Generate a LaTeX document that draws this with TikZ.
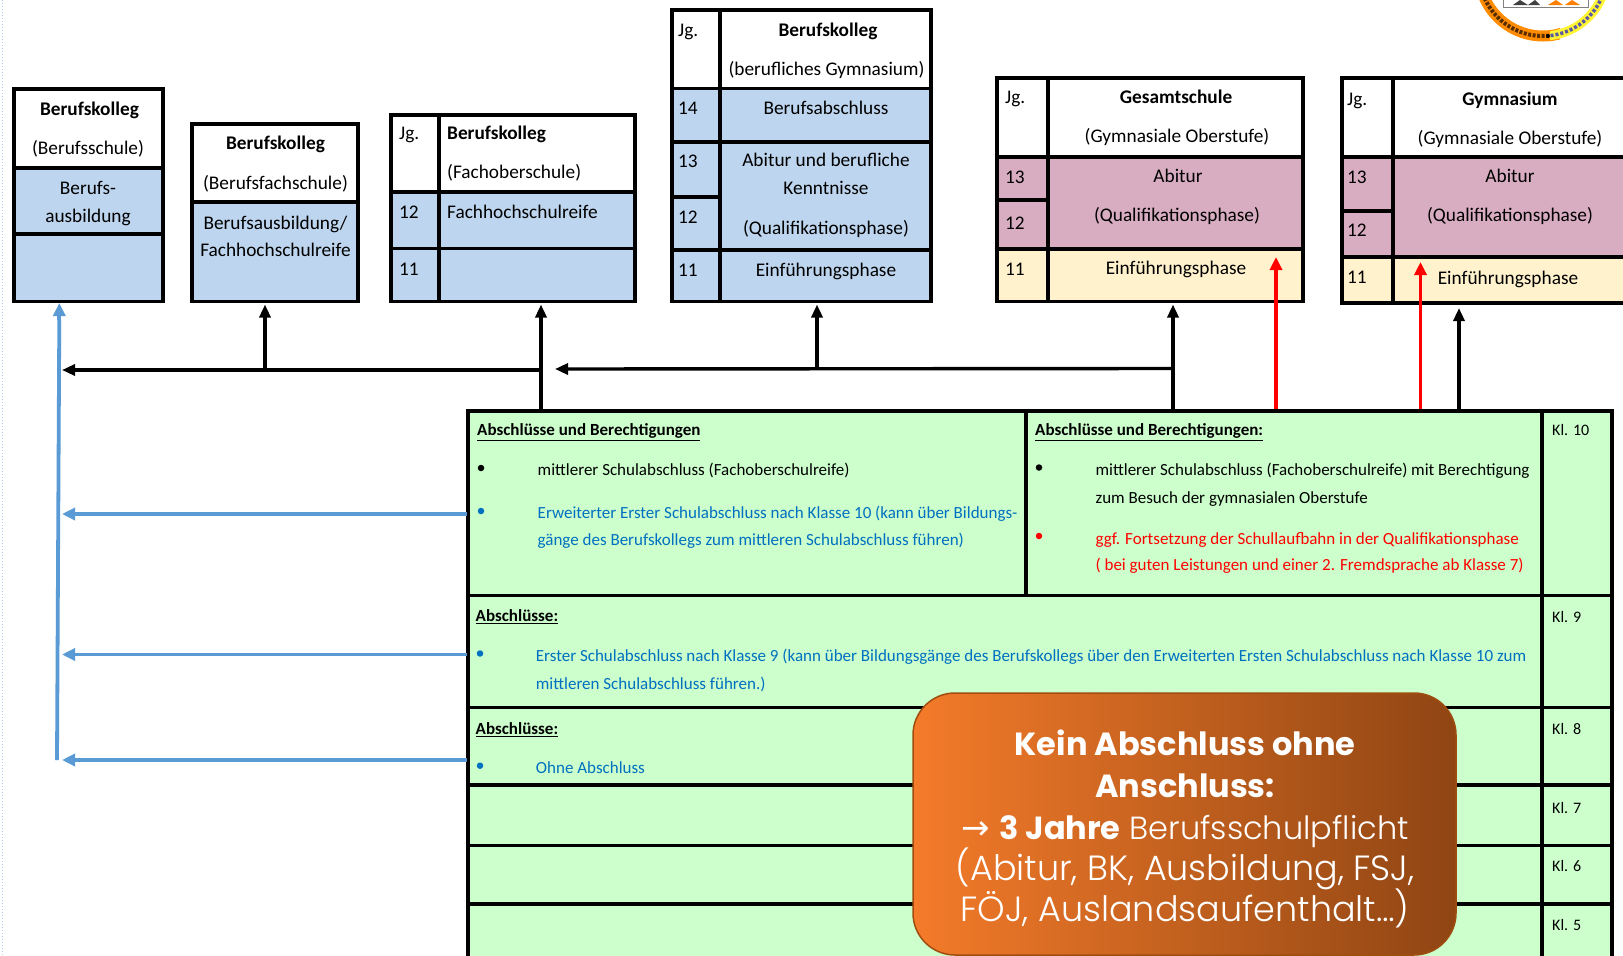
\documentclass[tikz,border=0pt]{standalone}
\usepackage{fontspec}
\setmainfont{Carlito}
\newfontfamily\calloutfont{Poppins}[UprightFont=* Light,BoldFont=* Bold]
\newfontfamily\arrowfont{DejaVu Sans}
\usetikzlibrary{arrows.meta,shapes.misc}
\definecolor{cblue}{HTML}{BDD5EE}
\definecolor{cpink}{HTML}{D9ADC1}
\definecolor{ccream}{HTML}{FFF2CC}
\definecolor{cgreen}{HTML}{CCFFCC}
\definecolor{tblue}{HTML}{0070C0}
\definecolor{ablue}{HTML}{5B9BD5}
\definecolor{corange}{HTML}{F47B2A}
\definecolor{cbrown}{HTML}{8F4513}
\tikzset{
  cellbox/.style={draw=black,line width=3.2pt,inner sep=0,outer sep=0,anchor=north west},
  lbl/.style={inner sep=0,yshift=-2pt,font=\fontsize{19.3}{21}\selectfont,text height=14pt,text depth=4.5pt},
  lblw/.style={lbl,anchor=west},
  tblw/.style={inner sep=0,yshift=-2pt,anchor=west,font=\fontsize{17}{20}\selectfont,text height=13pt,text depth=4pt},
  klw/.style={tblw,font=\fontsize{16}{20}\selectfont},
  blackarrow/.style={draw=black,line width=3.4pt,-{Triangle[length=13pt,width=11pt]}},
  redarrow/.style={draw=red,line width=3.8pt,-{Triangle[length=13pt,width=12pt]}},
  bluearrow/.style={draw=ablue,line width=3.8pt,-{Triangle[length=13pt,width=12pt]}},
  bullet/.style={circle,inner sep=0,minimum size=6.5pt},
}
\newcommand{\cell}[6]{%
  \node[cellbox,fill=#6,minimum width=#4pt-#2pt,minimum height=#5pt-#3pt] (#1) at (#2,#3) {};}
\begin{document}
\begin{tikzpicture}[x=1pt,y=-1pt]
\useasboundingbox (0,0) rectangle (1623,956);
\fill[white] (0,0) rectangle (1623,956);
\draw[color=ablue!50,line width=1pt,dotted] (2,0) -- (2,956);
% logo
\begin{scope}
\clip (1470,0) rectangle (1623,60);
\begin{scope}
\clip (1460,-40) rectangle (1560,60) ;
\draw[color=orange!90!yellow,line width=11pt] (1543,-28) circle (64);
\draw[color=black!65!orange,line width=4pt,dash pattern=on 3pt off 1.5pt] (1543,-28) circle (64);
\end{scope}
\begin{scope}
\clip (1550,-40) -- (1550,60) -- (1640,60) -- (1640,-40) -- cycle;
\draw[color=yellow!80!white,line width=9pt] (1543,-28) circle (64);
\draw[color=blue!30!gray,line width=3.5pt,dash pattern=on 3pt off 2pt] (1543,-28) circle (64);
\end{scope}
\fill[black] (1548,36) circle (2);
\draw[black!50,fill=white,line width=1pt] (1503,-5) rectangle (1588,7);
\fill[black!75] (1513,5) -- (1520,0) -- (1528,5) -- cycle;
\fill[black!75] (1528,5) -- (1535,0) -- (1540,5) -- cycle;
\fill[orange] (1548,5) -- (1556,0) -- (1563,5) -- cycle;
\fill[orange] (1565,5) -- (1572,0) -- (1580,5) -- cycle;
\end{scope}
% Box 1
\cell{a1}{14}{89}{163}{168}{white}
\cell{a2}{14}{168}{163}{234}{cblue}
\cell{a3}{14}{234}{163}{301.5}{cblue}
\node[lbl] (t1) at (89.5,109) {\textbf{Berufskolleg}};
\node[lbl] (t2) at (88,148) {(Berufsschule)};
\node[lbl] (t3) at (88,188) {Berufs-};
\node[lbl] (t4) at (88,216) {ausbildung};
% Box 2
\cell{b1}{192}{124}{358}{202}{white}
\cell{b2}{192}{202}{358}{301.5}{cblue}
\node[lbl] (t5) at (275.5,143) {\textbf{Berufskolleg}};
\node[lbl] (t6) at (275.5,182.7) {(Berufsfachschule)};
\node[lbl] (t7) at (275.5,222.7) {Berufsausbildung/};
\node[lbl] (t8) at (275.5,250) {Fachhochschulreife};
% Box 3
\cell{c1}{391}{115}{439}{192}{white}
\cell{c2}{439}{115}{635}{192}{white}
\cell{c3}{391}{192}{439}{248.5}{cblue}
\cell{c4}{439}{192}{635}{248.5}{cblue}
\cell{c5}{391}{248.5}{439}{301.5}{cblue}
\cell{c6}{439}{248.5}{635}{301.5}{cblue}
\node[lblw] (t9) at (399,133) {Jg.};
\node[lblw] (t10) at (447,133) {\textbf{Berufskolleg}};
\node[lblw] (t11) at (447,172) {(Fachoberschule)};
\node[lblw] (t12) at (399,211.7) {12};
\node[lblw] (t13) at (447,211.7) {Fachhochschulreife};
\node[lblw] (t14) at (399,268.7) {11};
% Box 4
\cell{d1}{672}{10}{720}{88.5}{white}
\cell{d2}{720}{10}{931}{88.5}{white}
\cell{d3}{672}{88.5}{720}{142}{cblue}
\cell{d4}{720}{88.5}{931}{142}{cblue}
\cell{d5}{672}{142}{720}{197}{cblue}
\cell{d6}{672}{197}{720}{250}{cblue}
\cell{d7}{720}{142}{931}{250}{cblue}
\cell{d8}{672}{250}{720}{301.5}{cblue}
\cell{d9}{720}{250}{931}{301.5}{cblue}
\node[lblw] (t15) at (678,30) {Jg.};
\node[lbl] (t16) at (828,30) {\textbf{Berufskolleg}};
\node[lbl] (t17) at (826.5,69) {(berufliches Gymnasium)};
\node[lblw] (t18) at (678,108) {14};
\node[lbl] (t19) at (826,108) {Berufsabschluss};
\node[lblw] (t20) at (678,161) {13};
\node[lbl] (t21) at (826,160) {Abitur und berufliche};
\node[lbl] (t22) at (826,188) {Kenntnisse};
\node[lbl] (t23) at (826,228) {(Qualifikationsphase)};
\node[lblw] (t24) at (678,217) {12};
\node[lblw] (t25) at (678,270) {11};
\node[lbl] (t26) at (826,270) {Einführungsphase};
% Box 5
\cell{e1}{997}{78}{1048}{157}{white}
\cell{e2}{1048}{78}{1303}{157}{white}
\cell{e3}{997}{157}{1048}{200}{cpink}
\cell{e4}{997}{200}{1048}{249}{cpink}
\cell{e5}{1048}{157}{1303}{249}{cpink}
\cell{e6}{997}{249}{1048}{301.5}{ccream}
\cell{e7}{1048}{249}{1303}{301.5}{ccream}
\node[lblw] (t27) at (1005,97) {Jg.};
\node[lbl] (t28) at (1176,97) {\textbf{Gesamtschule}};
\node[lbl] (t29) at (1177,136) {(Gymnasiale Oberstufe)};
\node[lblw] (t30) at (1005,177) {13};
\node[lbl] (t31) at (1178,176) {Abitur};
\node[lbl] (t32) at (1177,215) {(Qualifikationsphase)};
\node[lblw] (t33) at (1005,222.7) {12};
\node[lblw] (t34) at (1005,268.7) {11};
\node[lbl] (t35) at (1176,268) {Einführungsphase};
% Box 6
\cell{f1}{1342}{78}{1393}{157}{white}
\cell{f2}{1393}{78}{1630}{157}{white}
\cell{f3}{1342}{157}{1393}{211}{cpink}
\cell{f4}{1342}{211}{1393}{257}{cpink}
\cell{f5}{1393}{157}{1630}{257}{cpink}
\cell{f6}{1342}{257}{1393}{303}{ccream}
\cell{f7}{1393}{257}{1630}{303}{ccream}
\node[lblw] (t36) at (1347,98.7) {Jg.};
\node[lbl] (t37) at (1510,98.7) {\textbf{Gymnasium}};
\node[lbl] (t38) at (1510,137.7) {(Gymnasiale Oberstufe)};
\node[lblw] (t39) at (1347,177) {13};
\node[lbl] (t40) at (1510,176) {Abitur};
\node[lbl] (t41) at (1510,215) {(Qualifikationsphase)};
\node[lblw] (t42) at (1347,230) {12};
\node[lblw] (t43) at (1347,277) {11};
\node[lbl] (t44) at (1508,278) {Einführungsphase};
% Table
\cell{g1}{468}{411}{1026}{595.5}{cgreen}
\cell{g2}{1026}{411}{1542}{595.5}{cgreen}
\cell{g3}{1542}{411}{1612}{595.5}{cgreen}
\cell{g4}{468}{595.5}{1542}{707.5}{cgreen}
\cell{g5}{1542}{595.5}{1612}{707.5}{cgreen}
\cell{g6}{468}{707.5}{1542}{785}{cgreen}
\cell{g7}{1542}{707.5}{1612}{785}{cgreen}
\cell{g8}{468}{785}{1542}{845.5}{cgreen}
\cell{g9}{1542}{785}{1612}{845.5}{cgreen}
\cell{g10}{468}{845.5}{1542}{904}{cgreen}
\cell{g11}{1542}{845.5}{1612}{904}{cgreen}
\cell{g12}{468}{904}{1542}{970}{cgreen}
\cell{g13}{1542}{904}{1612}{970}{cgreen}
\node[tblw] (u1) at (477,429) {\textbf{\underline{Abschlüsse und Berechtigungen}}};
\node[bullet,fill=black] (b1a) at (481,468) {};
\node[tblw] (u2) at (537.5,469) {mittlerer Schulabschluss (Fachoberschulreife)};
\node[bullet,fill=tblue] (b1b) at (481,511) {};
\node[tblw,text=tblue] (u3) at (537.5,512) {Erweiterter Erster Schulabschluss nach Klasse 10 (kann über Bildungs-};
\node[tblw,text=tblue] (u4) at (537.5,539.3) {gänge des Berufskollegs zum mittleren Schulabschluss führen)};
\node[tblw] (u5) at (1035,429) {\textbf{\underline{Abschlüsse und Berechtigungen:}}};
\node[bullet,fill=black] (b2a) at (1039,467.5) {};
\node[tblw] (u6) at (1095.4,469) {mittlerer Schulabschluss (Fachoberschulreife) mit Berechtigung};
\node[tblw] (u7) at (1095.4,496.7) {zum Besuch der gymnasialen Oberstufe};
\node[bullet,fill=red] (b2b) at (1039,536) {};
\node[tblw,text=red] (u8) at (1095.4,538) {ggf. Fortsetzung der Schullaufbahn in der Qualifikationsphase};
\node[tblw,text=red] (u9) at (1095.4,563.7) {( bei guten Leistungen und einer 2. Fremdsprache ab Klasse 7)};
\node[klw] (k10) at (1552,429) {Kl. 10};
\node[tblw] (u10) at (475.5,615) {\textbf{\underline{Abschlüsse:}}};
\node[bullet,fill=tblue] (b3) at (480,653.5) {};
\node[tblw,text=tblue] (u11) at (535.7,655) {Erster Schulabschluss nach Klasse 9 (kann über Bildungsgänge des Berufskollegs über den Erweiterten Ersten Schulabschluss nach Klasse 10 zum};
\node[tblw,text=tblue] (u12) at (535.7,682.7) {mittleren Schulabschluss führen.)};
\node[klw] (k9) at (1552,615.7) {Kl. 9};
\node[tblw] (u13) at (475.5,727.7) {\textbf{\underline{Abschlüsse:}}};
\node[bullet,fill=tblue] (b4) at (480,765.7) {};
\node[tblw,text=tblue] (u14) at (535.7,767) {Ohne Abschluss};
\node[klw] (k8) at (1552,727.7) {Kl. 8};
\node[klw] (k7) at (1552,806.7) {Kl. 7};
\node[klw] (k6) at (1552,865) {Kl. 6};
\node[klw] (k5) at (1552,924) {Kl. 5};
% Callout
\node[rounded corners=42pt,draw=cbrown!85!orange,line width=1.5pt,outer sep=0,left color=corange,right color=cbrown,anchor=north west,minimum width=543pt,minimum height=262pt,inner sep=0] (call) at (913,693) {};
\begin{scope}[every node/.style={inner sep=0,text=white,font=\calloutfont\fontsize{35}{36}\selectfont,text height=25pt,text depth=8pt}]
\node (c1l) at (1185,747) {\fontsize{32}{36}\selectfont\textbf{Kein Abschluss ohne}};
\node (c2l) at (1185,789) {\fontsize{32}{36}\selectfont\textbf{Anschluss:}};
\node (c3l) at (1185,830.5) {{\arrowfont\fontsize{34}{36}\selectfont →} {\fontsize{32}{36}\selectfont\textbf{3 Jahre} Berufsschulpflicht}};
\node (c4l) at (1185,872) {(Abitur, BK, Ausbildung, FSJ,};
\node (c5l) at (1185,913) {FÖJ, Auslandsaufenthalt…)};
\end{scope}
% connectors
\coordinate (tipa) at (59.3,303);
\coordinate (bl1) at (467,514);
\coordinate (bl2) at (467,654.5);
\coordinate (bl3) at (467,760);
\coordinate (bltipx) at (62,0);
\coordinate (blc) at (57,760);
\coordinate (blmid) at (59.3,320);
\draw[bluearrow,-] (blc) -- (blmid);
\draw[bluearrow] (blmid) -- (tipa);
\draw[bluearrow] (bl1) -- (bl1 -| bltipx);
\draw[bluearrow] (bl2) -- (bl2 -| bltipx);
\draw[bluearrow] (bl3) -- (bl3 -| bltipx);
\coordinate (h1) at (541,370);
\coordinate (h2) at (1173,368.5);
\coordinate (s3) at (541,409);
\coordinate (s5) at (1173,409);
\coordinate (tipb) at (265,304.5);
\coordinate (tipc) at (541,304.5);
\coordinate (tipd) at (817,304.5);
\coordinate (tipe) at (1173,304.5);
\coordinate (tipr1) at (1276,257);
\coordinate (tipr2) at (1420.5,262);
\coordinate (tipf) at (1459,308);
\draw[blackarrow] (s3) -- (tipc);
\draw[blackarrow] (h1) -- (62,370);
\draw[blackarrow] (tipb |- h1) -- (tipb);
\draw[blackarrow] (h2) -- (555,369);
\draw[blackarrow] (tipd |- h2) -- (tipd);
\draw[blackarrow] (s5) -- (tipe);
\draw[redarrow] (tipr1 |- s5) -- (tipr1);
\draw[redarrow] (tipr2 |- s5) -- (tipr2);
\draw[blackarrow] (tipf |- s5) -- (tipf);
\end{tikzpicture}
\end{document}
